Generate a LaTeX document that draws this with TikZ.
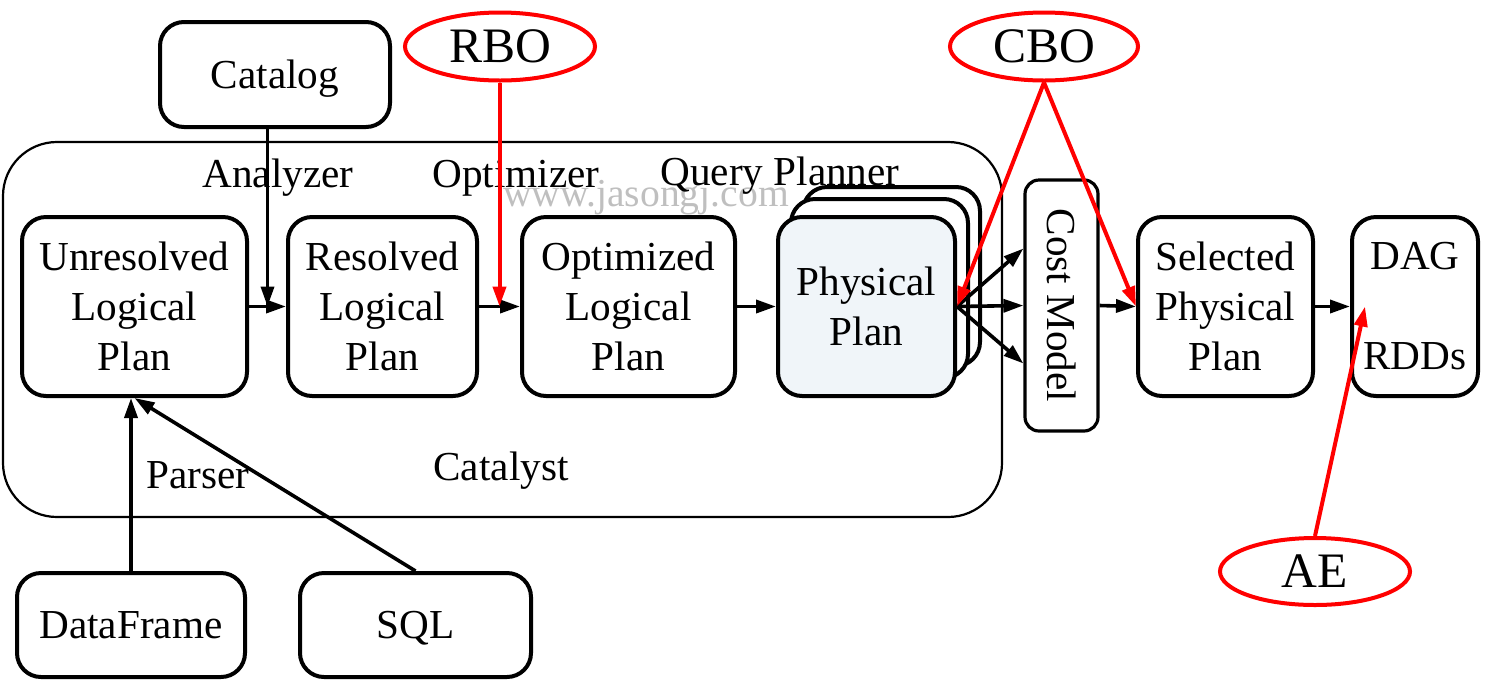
\documentclass[tikz,border=0pt]{standalone}
\usepackage{fontspec}
\setmainfont{Liberation Serif}
\usetikzlibrary{arrows.meta,calc,shapes.geometric}
\begin{document}
\begin{tikzpicture}[x=0.5pt,y=-0.5pt,
  every node/.style={font=\fontsize{20.6}{25}\selectfont},
  box/.style={draw,line width=2pt,rounded corners=12pt,align=center,inner sep=0pt,fill=white},
  oval/.style={draw=red,line width=2pt,ellipse,inner sep=0pt,text depth=0pt,font=\fontsize{24.8}{28}\selectfont},
  arr/.style={line width=1.8pt,-{Triangle[length=10pt,width=6.5pt]}},
  rarr/.style={arr,draw=red,fill=red,line width=2pt},
  lbl/.style={anchor=base,inner sep=0pt}]
\useasboundingbox (0,0) rectangle (1489,687);
% container
\node[draw,line width=1.1pt,rounded corners=27pt,minimum width=499.5pt,minimum height=187.5pt,inner sep=0pt] (catalyst) at (502.5,329.5) {};
% watermark and labels
\node[lbl,text=black!25,font=\fontsize{19.8}{24}\selectfont] (wm) at (646,206) {www.jasongj.com};
\node[lbl] (lanalyzer) at (278,187) {Analyzer};
\node[lbl] (loptimizer) at (516,187) {Optimizer};
\node[lbl] (lplanner) at (780,185) {Query Planner};
\node[lbl] (lparser) at (198,488) {Parser};
\node[lbl] (lcatalyst) at (501,480) {Catalyst};
% boxes
\node[box,text depth=0pt,minimum width=115pt,minimum height=52.5pt] (catalog) at (275,74.5) {Catalog};
\node[oval,minimum width=95pt,minimum height=34pt] (rbo) at (500,46.5) {RBO};
\node[oval,minimum width=94pt,minimum height=34pt] (cbo) at (1044,46.5) {CBO};
\node[oval,minimum width=95pt,minimum height=33.5pt] (ae) at (1315,571.5) {AE};
\node[box,minimum width=112.5pt,minimum height=89.5pt] (unres) at (134.5,306.5) {Unresolved\\Logical\\Plan};
\node[box,minimum width=94.5pt,minimum height=89.5pt] (res) at (382.5,306.5) {Resolved\\Logical\\Plan};
\node[box,minimum width=106.5pt,minimum height=89.5pt] (opt) at (628.5,306.5) {Optimized\\Logical\\Plan};
\node[box,minimum width=88.5pt,minimum height=89.5pt] (physc) at (891.5,276.5) {};
\node[box,minimum width=88.5pt,minimum height=89.5pt] (physb) at (879.5,288.5) {};
\node[box,fill={rgb,255:red,240;green,245;blue,249},minimum width=88.5pt,minimum height=89.5pt] (phys) at (866.5,306.5) {Physical\\Plan};
\node[box,line width=1.6pt,rounded corners=7pt,minimum width=36.5pt,minimum height=125.5pt] (cost) at (1061.5,305.5) {};
\node[rotate=-90,inner sep=0pt] (costtxt) at (cost.center) {Cost Model};
\node[box,minimum width=87.5pt,minimum height=89.5pt] (sel) at (1225.5,306.5) {Selected\\Physical\\Plan};
\node[box,minimum width=63pt,minimum height=89.5pt] (dag) at (1415,306.5) {DAG\\ \\RDDs};
\node[box,text depth=0pt,minimum width=114pt,minimum height=52pt] (df) at (131,625) {DataFrame};
\node[box,text depth=0pt,minimum width=115.5pt,minimum height=52pt] (sql) at (415.5,625) {SQL};
% helper coordinates
\coordinate (m1) at ($(unres.east)!0.5!(res.west)$);
\coordinate (m2) at ($(res.east)!0.5!(opt.west)$);
\coordinate (cu) at ($(cost.west)+(0,-57)$);
\coordinate (cd) at ($(cost.west)+(0,58)$);
\coordinate (dagin) at ($(dag.west)+(15,0)$);
% black arrows
\draw[arr] (unres.east) -- (res.west);
\draw[arr] (catalog.south -| m1) -- (m1);
\draw[arr] (res.east) -- (opt.west);
\draw[arr] (opt.east) -- (phys.west);
\draw[arr] (phys.east) -- (cost.west);
\draw[arr] (phys.east) -- (cu);
\draw[arr] (phys.east) -- (cd);
\draw[arr] (cost.east) -- (sel.west);
\draw[arr] (sel.east) -- (dag.west);
\draw[arr] (df.north) -- (df.north |- unres.south);
\draw[arr] (sql.north) -- (unres.south);
% red arrows
\draw[rarr] (rbo.south -| m2) -- (m2);
\draw[rarr] (cbo.south) -- (phys.east);
\draw[rarr] (cbo.south) -- (sel.west);
\draw[rarr] (ae.north) -- (dagin);
\end{tikzpicture}
\end{document}
